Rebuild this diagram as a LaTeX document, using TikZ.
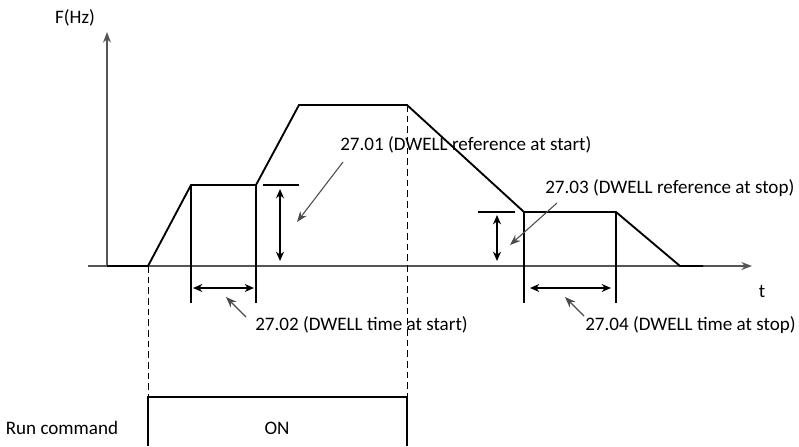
\documentclass[tikz,border=0pt]{standalone}
\usepackage{fontspec}
\setmainfont{Carlito}
\usepackage{xcolor}
\definecolor{axisgray}{RGB}{85,85,85}
\definecolor{pointergray}{RGB}{75,75,75}
\usetikzlibrary{arrows.meta}

\tikzset{
  wave/.style={black, line width=1.4pt, line join=miter},
  marker/.style={black, line width=1.1pt},
  dimarrow/.style={black, line width=1.1pt, {Stealth[length=7pt,width=6pt]}-{Stealth[length=7pt,width=6pt]}},
  pointer/.style={pointergray, line width=0.8pt, -{Stealth[length=8pt,width=6pt]}},
  guide/.style={black, dashed, dash pattern=on 5pt off 3pt, line width=0.6pt},
  lbl/.style={font=\fontsize{14.3}{17}\selectfont, inner sep=0pt},
}

\begin{document}
\begin{tikzpicture}[x=0.75pt, y=-0.75pt]
  \useasboundingbox (0,0) rectangle (799,446);

  % Axes
  \coordinate (org) at (107,266);
  \coordinate (ytip) at (107,32);
  \coordinate (xstart) at (88,266);
  \coordinate (xtip) at (752,266);
  \draw[axisgray, line width=1pt, -{Stealth[length=8pt,width=6pt]}] (org) -- (ytip);
  \draw[axisgray, line width=1pt, -{Stealth[length=8pt,width=6pt]}] (xstart) -- (xtip);
  \node[lbl] (fhz) at (75,18) {F(Hz)};
  \node[lbl] (tlab) at (762,292) {t};

  % Frequency profile
  \coordinate (w0) at (107,266);
  \coordinate (w1) at (148,266);
  \coordinate (w2) at (191,185);
  \coordinate (w3) at (256,185);
  \coordinate (w4) at (299,105);
  \coordinate (w5) at (407,105);
  \coordinate (w6) at (524,212);
  \coordinate (w7) at (616,212);
  \coordinate (w8) at (680,266);
  \coordinate (w9) at (703,266);
  \draw[wave] (w0) -- (w1) -- (w2) -- (w3) -- (w4) -- (w5) -- (w6) -- (w7) -- (w8) -- (w9);

  % Dwell at start
  \coordinate (s1) at (191,303);
  \coordinate (s2) at (256,303);
  \draw[marker] (w2) -- (s1);
  \draw[marker] (w3) -- (s2);
  \coordinate (sa) at (193,288);
  \coordinate (sb) at (254,288);
  \draw[dimarrow] (sa) -- (sb);
  \coordinate (rs1) at (263,185);
  \coordinate (rs2) at (299,185);
  \draw[marker] (rs1) -- (rs2);
  \coordinate (ra) at (280,189);
  \coordinate (rb) at (280,261);
  \draw[dimarrow] (ra) -- (rb);

  % Dwell at stop
  \coordinate (e1) at (524,303);
  \coordinate (e2) at (616,303);
  \draw[marker] (w6) -- (e1);
  \draw[marker] (w7) -- (e2);
  \coordinate (ea) at (530,288);
  \coordinate (eb) at (611,288);
  \draw[dimarrow] (ea) -- (eb);
  \coordinate (re1) at (478,212);
  \coordinate (re2) at (515,212);
  \draw[marker] (re1) -- (re2);
  \coordinate (rc) at (497,215);
  \coordinate (rd) at (497,261);
  \draw[dimarrow] (rc) -- (rd);

  % Parameter labels
  \node[lbl, anchor=west] (n01) at (340,145) {27.01 (DWELL reference at start)};
  \node[lbl, anchor=west] (n03) at (545,188) {27.03 (DWELL reference at stop)};
  \node[lbl, anchor=west] (n02) at (255,325) {27.02 (DWELL time at start)};
  \node[lbl, anchor=west] (n04) at (585,325) {27.04 (DWELL time at stop)};

  \coordinate (p01) at (343,162);
  \coordinate (q01) at (297,222);
  \draw[pointer] (p01) -- (q01);
  \coordinate (p03) at (557,203);
  \coordinate (q03) at (510,245);
  \draw[pointer] (p03) -- (q03);
  \coordinate (p02) at (246,317);
  \coordinate (q02) at (226,297);
  \draw[pointer] (p02) -- (q02);
  \coordinate (p04) at (584,316);
  \coordinate (q04) at (565,297);
  \draw[pointer] (p04) -- (q04);

  % Run command
  \coordinate (b1) at (148,446);
  \coordinate (b2) at (148,397);
  \coordinate (b3) at (407,397);
  \coordinate (b4) at (407,446);
  \draw[guide] (w1) -- (b2);
  \draw[guide] (w5) -- (b3);
  \draw[black, line width=0.9pt] (b1) -- (b2) -- (b3) -- (b4);
  \node[lbl] (on) at (277,428) {ON};
  \node[lbl] (runcmd) at (62,428) {Run command};
\end{tikzpicture}
\end{document}
